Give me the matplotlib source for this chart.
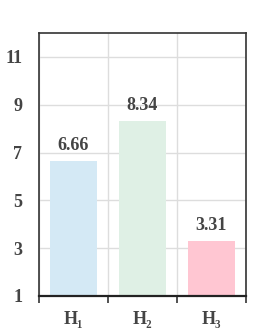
import matplotlib.pyplot as plt

# data
labels = ["H\u2081", "H\u2082", "H\u2083"]
values = [6.66, 8.34, 3.31]
colors = ["#d4e9f5", "#dff0e5", "#ffc6d2"]
yticks = [1, 3, 5, 7, 9, 11]

plt.rcParams["font.family"] = ["Liberation Serif", "DejaVu Serif"]
plt.rcParams["font.weight"] = "bold"

fig = plt.figure(figsize=(2.66, 3.34), dpi=100)
ax = fig.add_axes([39 / 266, 38 / 334, 207 / 266, 263 / 334])

x = list(range(len(values)))
bars = ax.bar(x, [v - 1 for v in values], bottom=1, width=0.67, color=colors, zorder=2)

for xi, v in zip(x, values):
    ax.annotate(f"{v:.2f}", (xi, v), xytext=(0, 5), textcoords="offset points",
                ha="center", va="bottom", fontsize=13, fontweight="bold", color="#444444")

ax.set_xlim(-0.5, 2.5)
ax.set_ylim(1, 12)
ax.set_yticks(yticks)
ax.set_yticklabels([str(t) for t in yticks], fontsize=13, fontweight="bold", color="#444444")
ax.set_xticks(x)
ax.set_xticklabels(labels, fontsize=13, fontweight="bold", color="#444444")
ax.set_xticks([-0.5, 0.5, 1.5, 2.5], minor=True)

ax.tick_params(axis="y", length=0, pad=12)
ax.tick_params(axis="x", which="major", length=0, pad=11)
ax.tick_params(axis="x", which="minor", length=5, width=1.2, color="#333333", direction="out")

ax.grid(axis="y", color="#dddddd", linewidth=1, zorder=0)
ax.grid(axis="x", which="minor", color="#dddddd", linewidth=1, zorder=0)
ax.set_axisbelow(True)

for side in ["left", "right", "top"]:
    ax.spines[side].set_color("#333333")
    ax.spines[side].set_linewidth(1.2)
ax.spines["bottom"].set_color("#222222")
ax.spines["bottom"].set_linewidth(1.6)

fig.savefig("out.png", dpi=100)
